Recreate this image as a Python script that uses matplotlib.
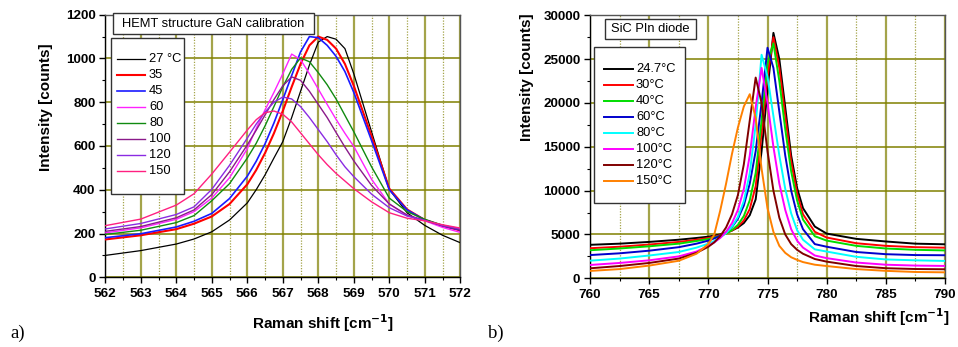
import matplotlib
matplotlib.use("Agg")
import matplotlib.pyplot as plt
from matplotlib.patches import Rectangle
from matplotlib.lines import Line2D
from matplotlib.ticker import MultipleLocator

plt.rcParams['font.family'] = ['Liberation Sans', 'DejaVu Sans']

# ---------------- data: a) HEMT GaN ----------------
gan_x = [562, 563, 564, 564.5, 565, 565.5, 566, 566.25, 566.5, 566.75, 567, 567.25,
         567.5, 567.75, 568, 568.25, 568.5, 568.75, 569, 569.5, 570, 570.5, 571, 571.5, 572]
gan_labels = ["27 °C", "35", "45", "60", "80", "100", "120", "150"]
gan_colors = ["#000000", "#ff0000", "#1a1aff", "#ff22ff", "#108a10", "#8a1a8a", "#8a2be2", "#ff2080"]
gan_widths = [0.9, 1.5, 1.2, 1.0, 1.0, 1.0, 1.0, 1.0]
gan_27 = [100, 122, 152, 175, 208, 262, 340, 400, 468, 545, 620, 730, 850, 970, 1075, 1100, 1088, 1045, 930, 665, 402, 295, 237, 192, 158]
gan_35 = [173, 192, 220, 245, 278, 335, 425, 490, 568, 658, 760, 870, 975, 1060, 1100, 1085, 1045, 975, 875, 645, 405, 310, 262, 235, 214]
gan_45 = [181, 199, 230, 256, 292, 360, 462, 530, 610, 705, 812, 922, 1030, 1100, 1095, 1060, 1010, 940, 845, 625, 400, 308, 262, 235, 216]
gan_60 = [203, 226, 265, 300, 362, 455, 588, 680, 765, 845, 930, 1020, 995, 930, 860, 790, 722, 658, 598, 448, 335, 282, 258, 228, 205]
gan_80 = [196, 215, 250, 282, 350, 428, 545, 612, 692, 780, 870, 950, 1002, 985, 935, 880, 815, 740, 665, 505, 362, 300, 265, 238, 220]
gan_100 = [210, 232, 272, 308, 378, 482, 605, 672, 742, 812, 875, 916, 900, 850, 790, 730, 662, 595, 532, 420, 335, 285, 260, 235, 218]
gan_120 = [221, 246, 287, 322, 402, 512, 636, 700, 755, 800, 824, 815, 780, 730, 675, 620, 560, 505, 460, 380, 318, 280, 260, 237, 222]
gan_150 = [236, 266, 330, 382, 472, 572, 673, 720, 752, 760, 745, 710, 660, 610, 560, 515, 475, 440, 405, 345, 295, 270, 258, 240, 225]
gan_series = [gan_27, gan_35, gan_45, gan_60, gan_80, gan_100, gan_120, gan_150]

# ---------------- data: b) SiC PIn diode ----------------
sic_x = [760, 762.5, 765, 767.5, 769, 770, 770.5, 771, 771.5, 772, 772.5, 773, 773.5, 774,
         774.5, 775, 775.5, 776, 776.5, 777, 777.5, 778, 779, 780, 782.5, 785, 787.5, 790]
sic_labels = ["24.7°C", "30°C", "40°C", "60°C", "80°C", "100°C", "120°C", "150°C"]
sic_colors = ["#000000", "#ff0000", "#00dd00", "#0000cc", "#00ffff", "#ff00ff", "#800000", "#ff8000"]
sic_247 = [3820, 3950, 4150, 4400, 4600, 4750, 4870, 5000, 5200, 5450, 5800, 6300, 7200, 9000, 14500, 21500, 28000, 25000, 19500, 14000, 10300, 8000, 5900, 5100, 4500, 4200, 3950, 3880]
sic_30 = [3430, 3600, 3850, 4150, 4400, 4600, 4750, 4930, 5150, 5450, 5900, 6600, 7900, 10500, 16500, 23000, 27500, 24000, 18500, 13300, 9700, 7300, 5300, 4650, 4000, 3700, 3550, 3490]
sic_40 = [3200, 3400, 3650, 3950, 4250, 4480, 4650, 4850, 5100, 5500, 6100, 7100, 8900, 12000, 18000, 24500, 26800, 22500, 17000, 12200, 8900, 6700, 4800, 4300, 3700, 3400, 3250, 3180]
sic_60 = [2650, 2850, 3150, 3550, 3950, 4300, 4550, 4850, 5250, 5850, 6800, 8300, 10800, 14500, 20000, 26300, 24000, 19000, 14000, 10000, 7300, 5600, 3900, 3600, 3000, 2750, 2650, 2630]
sic_80 = [2010, 2250, 2600, 3000, 3500, 3950, 4250, 4650, 5150, 5900, 7000, 8800, 12000, 17500, 25500, 23000, 18500, 14000, 10200, 7400, 5500, 4400, 3300, 3050, 2450, 2150, 2050, 1980]
sic_100 = [1520, 1750, 2050, 2500, 3050, 3700, 4100, 4600, 5300, 6300, 7800, 10200, 14000, 19500, 24000, 20000, 15000, 10800, 7800, 5600, 4300, 3500, 2600, 2300, 1800, 1550, 1450, 1410]
sic_120 = [1140, 1400, 1750, 2250, 2900, 3600, 4100, 4800, 5800, 7300, 9500, 13000, 18000, 22900, 20000, 14500, 10000, 6900, 5000, 3900, 3250, 2800, 2200, 1900, 1400, 1150, 1060, 1030]
sic_150 = [840, 1050, 1450, 2000, 2800, 3900, 5000, 7700, 10800, 14200, 17200, 19600, 21000, 18300, 12500, 8000, 5300, 3700, 2900, 2400, 2100, 1850, 1550, 1400, 1050, 850, 720, 680]
sic_series = [sic_247, sic_30, sic_40, sic_60, sic_80, sic_100, sic_120, sic_150]

W, H = 958, 347
fig = plt.figure(figsize=(W / 100, H / 100), dpi=100)
axL = fig.add_axes([105.3 / W, (H - 277.3) / H, 355 / W, 262.6 / H])
axR = fig.add_axes([590 / W, (H - 278.3) / H, 355 / W, 263 / H])

OLIVE = "#808000"
OLIVE_V = "#a4a44a"
TICKFS = 9.7


def style_axes(ax, xlim, ylim, xmaj, xmin, ymaj, ymin):
    ax.set_xlim(*xlim)
    ax.set_ylim(*ylim)
    ax.xaxis.set_major_locator(MultipleLocator(xmaj))
    ax.xaxis.set_minor_locator(MultipleLocator(xmin))
    ax.yaxis.set_major_locator(MultipleLocator(ymaj))
    ax.yaxis.set_minor_locator(MultipleLocator(ymin))
    ax.grid(False)
    ax.set_axisbelow(True)
    ax.xaxis.grid(True, which="major", color=OLIVE_V, lw=1.6, zorder=0)
    ax.xaxis.grid(True, which="minor", color=OLIVE_V, lw=0.9, ls=(0, (1, 1.2)), zorder=0)
    ax.yaxis.grid(True, which="major", color=OLIVE, lw=1.1, zorder=0)
    ax.tick_params(which="major", direction="out", length=4, width=1, pad=3)
    ax.tick_params(which="minor", direction="out", length=2.5, width=0.8)
    ax.tick_params(axis="x", which="major", pad=4)
    for lab in ax.get_xticklabels() + ax.get_yticklabels():
        lab.set_fontweight("bold")
        lab.set_fontsize(TICKFS)
    for s in ["top", "right"]:
        ax.spines[s].set_color("#555555")
    for s in ax.spines.values():
        s.set_linewidth(1.0)


# ---- left panel ----
for ys, c, lw in zip(gan_series, gan_colors, gan_widths):
    axL.plot(gan_x, ys, color=c, lw=lw, zorder=3)
style_axes(axL, (562, 572), (0, 1200), 1, 0.5, 200, 100)

# ---- right panel ----
for ys, c in zip(sic_series, sic_colors):
    axR.plot(sic_x, ys, color=c, lw=1.4, zorder=3)
style_axes(axR, (760, 790), (0, 30000), 5, 2.5, 5000, 2500)


def box(ax, x0, y0, x1, y1):
    ax.add_patch(Rectangle((x0, y0), x1 - x0, y1 - y0, transform=ax.transAxes,
                           facecolor="white", edgecolor="#333333", lw=1.0,
                           zorder=10, clip_on=False))


BOXFS = 9.3
# title boxes
box(axL, 0.0217, 0.9265, 0.588, 1.0053)
axL.text(0.305, 0.966, "HEMT structure GaN calibration", transform=axL.transAxes,
         ha="center", va="center", fontsize=BOXFS, zorder=11)
box(axR, 0.0423, 0.9099, 0.2986, 0.9859)
axR.text(0.1705, 0.948, "SiC PIn diode", transform=axR.transAxes,
         ha="center", va="center", fontsize=BOXFS, zorder=11)


def legend(ax, x0, x1, ytop, ybot, hx0, hx1, tx, row0, step, labels, colors, widths):
    box(ax, x0, ybot, x1, ytop)
    for i, (lab, c, lw) in enumerate(zip(labels, colors, widths)):
        y = row0 - i * step
        ax.add_line(Line2D([hx0, hx1], [y, y], transform=ax.transAxes, color=c,
                           lw=lw, zorder=11, clip_on=False))
        ax.text(tx, y, lab, transform=ax.transAxes, ha="left", va="center",
                fontsize=BOXFS, zorder=11)


legend(axL, 0.0152, 0.2225, 0.910, 0.3172, 0.0321, 0.1118, 0.1231, 0.8324, 16 / 262.6,
       gan_labels, gan_colors, gan_widths)
legend(axR, 0.0121, 0.2676, 0.8806, 0.2852, 0.0403, 0.1203, 0.1296, 0.7947, 16 / 263,
       sic_labels, sic_colors, [1.4] * 8)

# axis labels
LABFS = 11
fig.text(46 / W, 1 - 107.5 / H, "Intensity [counts]", rotation=90, ha="center", va="center",
         fontsize=LABFS, fontweight="bold")
fig.text(527 / W, 1 - 77.5 / H, "Intensity [counts]", rotation=90, ha="center", va="center",
         fontsize=LABFS, fontweight="bold")
fig.text(323 / W, 1 - 323 / H, r"Raman shift [cm$^{\mathbf{-1}}$]", ha="center", va="center",
         fontsize=LABFS, fontweight="bold")
fig.text(950 / W, 1 - 317 / H, r"Raman shift [cm$^{\mathbf{-1}}$]", ha="right", va="center",
         fontsize=LABFS, fontweight="bold")

fig.text(10 / W, 1 - 333 / H, "a)", ha="left", va="center", fontsize=13.5,
         family=["Liberation Serif", "DejaVu Serif"])
fig.text(488 / W, 1 - 333 / H, "b)", ha="left", va="center", fontsize=13.5,
         family=["Liberation Serif", "DejaVu Serif"])

fig.savefig("out.png", dpi=100)
